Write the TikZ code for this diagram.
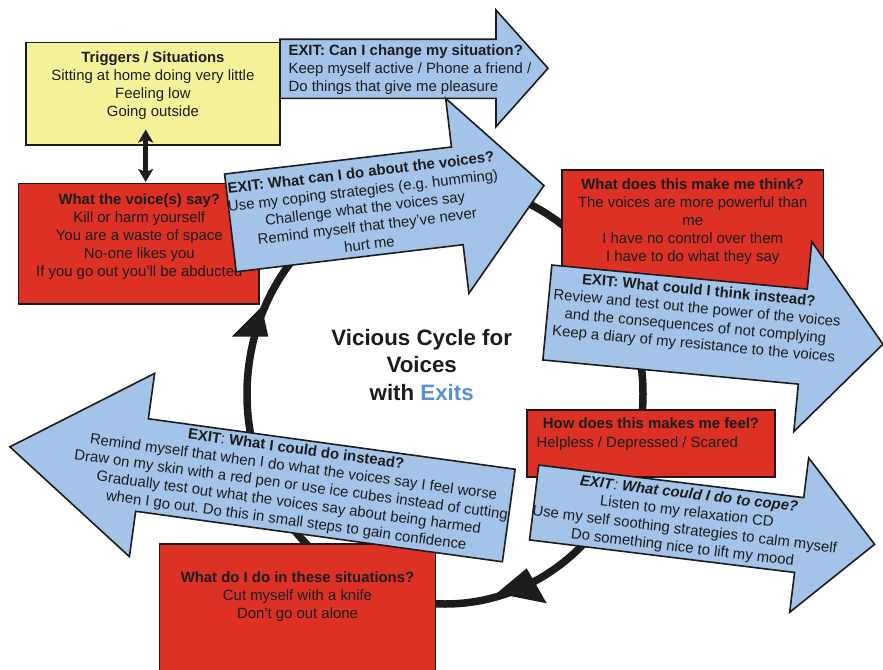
\documentclass[tikz,border=0pt]{standalone}
\usepackage{fontspec}
\setmainfont{Liberation Sans}
\usetikzlibrary{arrows.meta}
\frenchspacing
\definecolor{boxred}{HTML}{DD3126}
\definecolor{exitblue}{HTML}{A3C4E8}
\definecolor{trigyellow}{HTML}{F6F29A}
\definecolor{titleblue}{HTML}{5B8FD4}
\definecolor{ink}{HTML}{1C1C1C}
\begin{document}
\begin{tikzpicture}[x=1pt,y=-1pt,
  every node/.style={inner sep=0pt, outer sep=0pt},
  bodytext/.style={font=\fontsize{14.9}{18}\selectfont, text=ink, align=center},
  redbox/.style={draw=ink, line width=1.6pt, fill=boxred, anchor=north west},
  yelbox/.style={draw=ink, line width=1.6pt, fill=trigyellow, anchor=north west},
  exitarrow/.style={draw=ink, line width=1.6pt, fill=exitblue, line join=miter},
  cycleline/.style={draw=ink, line width=7.5pt},
  cyclehead/.style={fill=ink},
  dblarrow/.style={draw=ink, line width=5pt, {Stealth[length=13pt,width=15pt,inset=3pt]}-{Stealth[length=13pt,width=15pt,inset=3pt]}},
]
\useasboundingbox (0,0) rectangle (883,669);
\fill[white] (0,0) rectangle (883,669);
\clip (0,0) rectangle (883,669);

% cycle
\draw[cycleline] (445,394) ellipse [x radius=198pt, y radius=210pt];
\fill[cyclehead] (261.7,306.7) -- (231.7,336.7) -- (268.3,336.7) -- cycle;
\fill[cyclehead] (496.7,593.3) -- (526.7,568.3) -- (546.7,603.3) -- cycle;

% triggers
\node[yelbox, minimum width=254.3pt, minimum height=102.3pt] (trig) at (25.7,42.7) {};
\node[bodytext] (trigT) at (152.9,86) {\textbf{Triggers / Situations}\\Sitting at home doing very little\\Feeling low\\Going outside};

% exit 1
\draw[exitarrow] (280,39.3) -- (496,39.3) -- (496,10) -- (548,68.3) -- (496,126.7) -- (496,98.3) -- (280,98.3) -- cycle;
\node[bodytext, align=left, anchor=west] (exit1) at (288.6,69.7) {\textbf{EXIT: Can I change my situation?}\\Keep myself active / Phone a friend /\\Do things that give me pleasure};

% red boxes
\node[redbox, minimum width=240.4pt, minimum height=120.7pt] (voices) at (18.6,183.3) {};
\node[bodytext] (voicesT) at (139.3,236.5) {\textbf{What the voice(s) say?}\\Kill or harm yourself\\You are a waste of space\\No-one likes you\\If you go out you’ll be abducted};

\node[redbox, minimum width=261.6pt, minimum height=125pt] (think) at (561.7,170) {};
\node[bodytext] (thinkT) at (692.7,221.2) {\textbf{What does this make me think?}\\The voices are more powerful than\\me\\I have no control over them\\I have to do what they say};

\node[redbox, minimum width=248.3pt, minimum height=66.7pt] (feel) at (526.7,410) {};
\node[bodytext] (feelT) at (651,423.3) {\textbf{How does this makes me feel?}};
\node[bodytext, anchor=west] (feelT2) at (536.7,443.2) {Helpless / Depressed / Scared};

\node[redbox, minimum width=275.8pt, minimum height=140pt] (act) at (159.6,544) {};
\node[bodytext] (actT) at (297.5,596.5) {\textbf{What do I do in these situations?}\\Cut myself with a knife\\Don’t go out alone};

% double arrow
\coordinate (dA) at (145.7,129.5);
\coordinate (dB) at (145.7,182);
\draw[dblarrow] (dA) -- (dB);

% exit 2
\begin{scope}[shift={(230.4,222.9)}, rotate=6.8]
\draw[exitarrow] (0,-49.2) -- (228.5,-49.2) -- (228.5,-98.2) -- (315.8,0) -- (228.5,98.2) -- (228.5,49.2) -- (0,49.2) -- cycle;
\node[bodytext, transform shape] (exit2) at (135.5,1.3) {\textbf{EXIT: What can I do about the voices?}\\Use my coping strategies (e.g. humming)\\Challenge what the voices say\\Remind myself that they’ve never\\hurt me};
\end{scope}

% exit 3
\begin{scope}[shift={(547.35,312.5)}, rotate=-5.4]
\draw[exitarrow] (0,-47.7) -- (256.6,-47.7) -- (256.6,-95.4) -- (337.1,0) -- (256.6,95.4) -- (256.6,47.7) -- (0,47.7) -- cycle;
\node[bodytext, transform shape] (exit3) at (148.7,-8.45) {\textbf{EXIT: What could I think instead?}\\Review and test out the power of the voices\\and the consequences of not complying\\Keep a diary of my resistance to the voices};
\end{scope}

% exit 4
\begin{scope}[shift={(534.15,502.5)}, rotate=-7.0]
\draw[exitarrow] (0,-37.7) -- (267,-37.7) -- (267,-77.8) -- (343,0) -- (267,77.8) -- (267,37.7) -- (0,37.7) -- cycle;
\node[bodytext, transform shape] (exit4) at (152.75,0.45) {\textbf{\textit{EXIT}}\textit{:} \textbf{\textit{What could I do to cope?}}\\Listen to my relaxation CD\\Use my self soothing strategies to calm myself\\Do something nice to lift my mood};
\end{scope}

% exit 5
\begin{scope}[shift={(508.75,515.5)}, rotate=-7.84]
\draw[exitarrow] (0,-46.7) -- (-370.2,-46.7) -- (-370.2,-92.5) -- (-503.6,0) -- (-370.2,92.5) -- (-370.2,46.7) -- (0,46.7) -- cycle;
\node[bodytext, transform shape] (exit5) at (-219.7,0.1) {\textbf{EXIT}: \textbf{What I could do instead?}\\Remind myself that when I do what the voices say I feel worse\\Draw on my skin with a red pen or use ice cubes instead of cutting\\Gradually test out what the voices say about being harmed\\when I go out. Do this in small steps to gain confidence};
\end{scope}

% title
\node[font=\fontsize{22.3}{27.5}\selectfont\bfseries, text=ink, align=center] (title) at (421.7,364.6) {Vicious Cycle for\\Voices\\with \textcolor{titleblue}{Exits}};
\end{tikzpicture}
\end{document}
